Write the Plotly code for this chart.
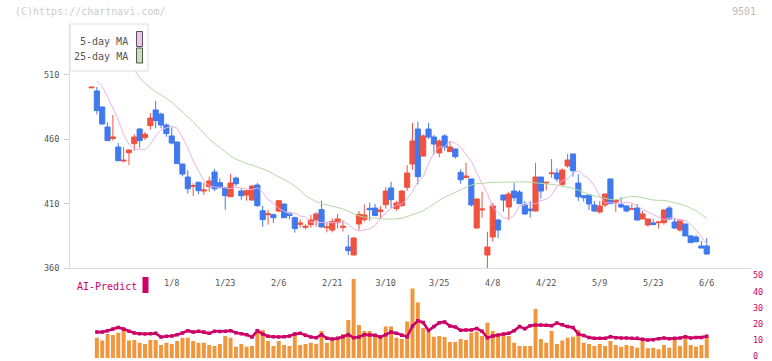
import plotly.graph_objects as go

# ---------------- data ----------------
tick_labels = ["1/8", "1/23", "2/6", "2/21", "3/10", "3/25", "4/8", "4/22", "5/9", "5/23", "6/6"]
tick_index = [15, 25, 35, 45, 55, 65, 75, 85, 95, 105, 115]

open_ = [500.0, 497.6, 485.1, 469.6, 460.7, 454.0, 443.1, 449.6, 456.6, 468.0,
         461.3, 470.6, 482.8, 479.7, 471.1, 462.6, 457.9, 440.8, 430.7, 423.5,
         426.6, 419.8, 423.2, 434.6, 426.3, 422.2, 415.4, 429.9, 419.8, 416.7,
         412.8, 424.5, 404.5, 401.4, 401.4, 404.3, 409.7, 402.7, 399.1, 393.9,
         391.6, 393.7, 397.3, 405.3, 391.3, 389.5, 395.2, 391.6, 376.3, 370.1,
         394.2, 397.6, 406.4, 406.6, 404.0, 409.2, 422.2, 406.1, 408.4, 422.7,
         440.8, 468.0, 447.0, 468.0, 461.8, 449.4, 462.6, 450.4, 452.5, 434.3,
         430.2, 429.2, 391.1, 405.1, 370.1, 384.1, 397.3, 416.7, 407.4, 419.8,
         419.0, 409.0, 405.8, 404.3, 430.7, 426.0, 433.3, 433.8, 425.0, 439.3,
         448.6, 426.0, 416.2, 416.7, 409.0, 403.5, 409.0, 429.2, 411.3, 409.2,
         408.2, 405.6, 406.6, 398.1, 393.4, 395.0, 395.2, 395.2, 406.6, 395.7,
         389.5, 394.2, 384.9, 384.1, 377.1, 377.1]
high = [501.0, 500.7, 485.5, 473.2, 478.9, 457.1, 454.0, 452.0, 463.9, 469.0,
        465.7, 480.4, 489.8, 480.7, 472.4, 469.3, 458.2, 441.0, 435.9, 425.8,
        427.1, 426.3, 431.0, 436.9, 429.7, 423.2, 433.0, 431.0, 421.9, 420.6,
        424.5, 426.0, 408.2, 405.1, 402.2, 412.8, 409.9, 403.0, 399.9, 397.8,
        393.9, 401.2, 403.3, 412.1, 395.5, 398.6, 402.0, 397.0, 385.6, 384.3,
        404.3, 409.5, 410.8, 409.7, 408.2, 422.9, 427.1, 412.1, 420.6, 440.0,
        472.7, 473.7, 463.9, 472.7, 463.3, 460.0, 464.1, 458.4, 452.7, 436.7,
        441.8, 429.3, 413.9, 419.3, 388.2, 410.5, 398.1, 416.8, 419.3, 426.3,
        420.6, 412.1, 412.1, 441.6, 430.8, 426.8, 444.7, 437.4, 437.4, 448.6,
        448.8, 433.0, 416.5, 417.0, 412.1, 412.1, 417.6, 429.3, 412.7, 415.2,
        408.5, 409.7, 409.7, 404.3, 398.3, 398.1, 395.8, 405.8, 408.2, 398.9,
        397.4, 394.3, 385.6, 385.6, 381.0, 383.3]
low = [499.8, 479.4, 471.2, 458.8, 459.0, 442.9, 442.1, 440.0, 451.2, 453.5,
       459.5, 467.5, 468.5, 468.5, 462.0, 456.0, 440.8, 431.2, 417.8, 416.0,
       417.2, 416.7, 419.3, 419.8, 421.9, 405.3, 415.2, 423.7, 413.1, 412.3,
       412.3, 407.4, 392.1, 393.7, 395.0, 403.5, 398.8, 398.0, 387.5, 391.3,
       390.0, 391.3, 392.1, 391.3, 387.7, 387.7, 390.6, 388.2, 370.1, 370.0,
       389.5, 396.0, 396.8, 400.5, 398.1, 406.1, 406.4, 404.5, 407.9, 420.1,
       436.1, 425.0, 446.8, 460.2, 447.8, 446.0, 450.9, 450.2, 445.0, 425.5,
       430.0, 407.7, 390.6, 399.1, 355.0, 380.5, 383.3, 403.8, 397.3, 412.1,
       409.8, 401.2, 399.1, 403.8, 414.1, 420.3, 430.2, 427.1, 423.2, 437.9,
       431.0, 412.1, 411.5, 405.1, 403.5, 402.2, 407.4, 409.8, 403.5, 406.4,
       403.5, 405.3, 397.2, 397.9, 392.1, 393.5, 390.6, 393.7, 397.3, 390.3,
       388.2, 384.8, 379.5, 379.7, 375.3, 370.1]
close = [500.5, 482.3, 471.9, 459.0, 461.8, 443.4, 443.7, 451.7, 461.8, 459.0,
         463.9, 476.5, 474.5, 471.1, 464.4, 457.1, 441.1, 433.0, 421.6, 424.0,
         420.1, 420.6, 427.6, 421.6, 422.4, 416.2, 426.0, 425.5, 416.2, 420.1,
         423.7, 408.4, 397.6, 402.2, 399.1, 412.3, 399.1, 400.7, 390.6, 395.0,
         392.4, 397.3, 402.0, 391.9, 391.9, 396.0, 398.1, 392.4, 373.5, 383.3,
         401.7, 401.2, 405.3, 400.7, 405.1, 419.8, 413.1, 410.5, 419.8, 433.8,
         458.7, 431.0, 462.6, 461.8, 456.3, 458.7, 454.0, 454.0, 446.5, 428.6,
         431.5, 409.0, 413.6, 405.8, 376.3, 408.2, 389.5, 412.8, 417.5, 414.6,
         410.0, 402.0, 404.5, 430.7, 419.8, 426.6, 433.8, 429.2, 436.1, 443.9,
         435.6, 415.4, 414.6, 409.7, 404.3, 408.2, 417.5, 410.0, 412.6, 407.4,
         404.3, 406.1, 397.3, 402.0, 398.1, 393.7, 395.7, 405.1, 398.1, 391.1,
         397.3, 384.9, 379.7, 380.5, 375.5, 370.9]
ma5 = [None, 505.3, 500.9, 493.2, 484.5, 475.1, 463.7, 456.0, 451.9, 452.5,
       451.9, 456.0, 462.6, 467.1, 469.0, 470.1, 468.7, 461.6, 453.3, 443.4,
       435.4, 428.0, 423.9, 422.8, 422.8, 422.5, 421.7, 422.8, 422.3, 421.3,
       420.8, 422.3, 418.8, 413.2, 410.4, 406.2, 403.9, 402.1, 402.7, 400.4,
       399.5, 395.6, 395.2, 395.5, 395.7, 395.1, 395.8, 396.0, 394.1, 390.4,
       388.7, 389.8, 390.4, 393.0, 398.4, 402.8, 406.4, 408.8, 409.8, 413.7,
       419.4, 427.2, 430.8, 441.2, 449.6, 454.1, 454.1, 458.7, 457.0, 453.9,
       448.4, 442.9, 433.9, 425.8, 417.7, 407.2, 402.6, 398.7, 398.5, 400.9,
       408.5, 408.9, 411.4, 409.7, 412.4, 413.4, 416.7, 423.1, 428.0, 429.1,
       433.9, 435.7, 432.0, 429.1, 423.8, 415.9, 410.4, 410.9, 409.9, 410.5,
       411.1, 410.4, 408.1, 405.5, 403.4, 401.6, 399.4, 397.4, 398.9, 398.1,
       396.7, 397.0, 394.0, 389.0, 384.5, 378.5]
ma25 = [545.0, 541.0, 537.0, 533.0, 529.0, 525.0, 521.0, 517.5, 514.0, 508.0,
        503.5, 500.0, 497.0, 494.5, 492.0, 489.0, 485.0, 481.5, 477.5, 473.5,
        469.5, 465.0, 460.0, 457.0, 454.0, 450.5, 447.0, 444.5, 443.0, 441.0,
        440.0, 438.6, 437.5, 435.5, 433.0, 431.0, 429.0, 426.5, 423.5, 420.5,
        416.0, 413.5, 411.5, 410.0, 409.0, 408.0, 407.5, 406.0, 404.0, 402.0,
        400.5, 399.5, 399.0, 398.5, 398.0, 398.0, 398.0, 398.0, 398.5, 400.0,
        401.5, 403.0, 404.5, 407.0, 410.0, 412.5, 415.0, 417.0, 419.0, 421.0,
        423.0, 424.5, 425.5, 426.0, 426.5, 426.5, 426.6, 426.7, 426.8, 427.0,
        427.0, 427.0, 426.6, 426.2, 426.0, 425.5, 425.0, 424.5, 423.5, 423.0,
        422.0, 420.5, 418.5, 417.0, 416.0, 415.0, 414.2, 413.2, 413.0, 414.2,
        415.0, 415.5, 415.5, 414.5, 413.5, 412.8, 412.6, 412.5, 411.8, 410.5,
        409.5, 408.5, 406.5, 404.5, 401.5, 398.5]
volume = [None, 12.6, 10.8, 14.9, 14.3, 15.7, 17.4, 10.8, 11.2, 9.5,
          8.7, 11.2, 11.2, 8.1, 9.5, 8.7, 10.6, 12.6, 12.6, 10.6,
          9.5, 9.5, 8.1, 7.5, 8.7, 13.7, 12.6, 7.0, 8.7, 7.0,
          7.5, 18.0, 17.4, 10.6, 7.5, 10.6, 8.1, 7.5, 15.7, 8.1,
          8.7, 9.5, 8.7, 16.8, 9.5, 11.2, 12.6, 14.9, 23.6, 49.1,
          20.5, 16.8, 16.8, 13.7, 12.6, 19.5, 19.5, 12.6, 11.8, 22.6,
          43.1, 34.4, 18.6, 15.7, 13.2, 13.7, 13.0, 9.9, 9.9, 11.8,
          11.2, 15.7, 16.4, 13.7, 21.9, 16.8, 13.7, 14.1, 13.7, 9.5,
          7.5, 7.5, 7.5, 30.4, 11.8, 9.5, 16.8, 8.7, 10.8, 12.6,
          13.2, 17.4, 9.5, 8.7, 7.5, 8.7, 7.5, 10.6, 8.1, 7.0,
          8.1, 7.5, 6.4, 10.6, 6.0, 6.4, 5.4, 8.1, 6.4, 11.8,
          7.5, 12.2, 8.1, 7.0, 8.1, 12.8]
ai_predict = [None, 16.1, 16.1, 17.0, 18.0, 19.0, 18.0, 16.6, 15.5, 15.1,
              14.9, 15.1, 15.3, 13.0, 13.5, 13.7, 14.5, 15.5, 17.0, 16.1,
              16.6, 16.1, 15.3, 16.6, 16.4, 16.6, 17.0, 15.7, 15.1, 14.5,
              13.0, 17.0, 14.9, 13.5, 13.2, 13.0, 13.2, 13.7, 14.9, 15.3,
              14.1, 13.0, 12.6, 14.5, 12.2, 11.8, 12.2, 13.2, 14.5, 12.6,
              13.0, 14.5, 14.3, 14.1, 13.0, 14.5, 16.1, 15.3, 14.1, 13.2,
              19.9, 23.2, 22.1, 17.0, 19.5, 21.9, 22.4, 19.9, 19.3, 17.2,
              17.4, 17.4, 18.4, 16.6, 12.6, 13.7, 14.3, 14.9, 15.3, 17.0,
              19.5, 18.2, 20.1, 20.5, 20.5, 20.3, 20.1, 21.7, 20.7, 19.5,
              19.0, 14.9, 13.9, 12.8, 12.2, 12.2, 12.2, 13.2, 12.6, 12.4,
              12.4, 12.2, 12.2, 11.6, 11.2, 11.4, 12.0, 12.4, 12.0, 12.2,
              12.4, 13.2, 12.4, 12.8, 12.8, 13.5]
price_ticks = [360, 410, 460, 510]
volume_ticks = [0, 10, 20, 30, 40, 50]

# ---------------- styling ----------------
RED = "#f0523f"
BLUE = "#4079ee"
ORANGE = "#f0963c"
CRIMSON = "#cc0066"
PINK = "#e8b2ea"
GREEN = "#b3daa3"
FONT = "DejaVu Sans Mono"

W, H = 772, 361
ML, MR, MT, MB = 70, 20, 24, 3
PW = W - ML - MR
PH = H - MT - MB


def px(xp):
    return (xp - ML) / PW


def py(yp):
    return (H - MB - yp) / PH


xs = list(range(len(close)))
x_range = [-4.02, 123.46]

fig = go.Figure()
fig.add_trace(go.Scatter(x=xs, y=ma25, mode="lines", line=dict(color=GREEN, width=1),
                         xaxis="x", yaxis="y", hoverinfo="skip"))
fig.add_trace(go.Scatter(x=xs, y=ma5, mode="lines", line=dict(color=PINK, width=1),
                         xaxis="x", yaxis="y", hoverinfo="skip"))
fig.add_trace(go.Candlestick(
    x=xs, open=open_, high=high, low=low, close=close,
    increasing=dict(line=dict(color=RED, width=1), fillcolor=RED),
    decreasing=dict(line=dict(color=BLUE, width=1), fillcolor=BLUE),
    whiskerwidth=0, xaxis="x", yaxis="y"))
fig.add_trace(go.Bar(x=xs, y=volume, marker=dict(color=ORANGE, line=dict(width=0)),
                     width=0.74, xaxis="x2", yaxis="y2"))
fig.add_trace(go.Scatter(x=xs, y=ai_predict, mode="lines+markers",
                         line=dict(color=CRIMSON, width=2.6),
                         marker=dict(color=CRIMSON, size=3.5, symbol="square"),
                         xaxis="x2", yaxis="y2"))

price_bottom = py(268)
vol_top = py(277.5)

fig.update_layout(
    width=W, height=H,
    margin=dict(l=ML, r=MR, t=MT, b=MB, autoexpand=False),
    paper_bgcolor="white", plot_bgcolor="white",
    showlegend=False,
    boxgap=0.04, boxgroupgap=0.0,
    bargap=0.2,
    font=dict(family=FONT, color="#555555", size=9),
    xaxis=dict(domain=[0, 1], anchor="y", range=x_range, showgrid=False, zeroline=False,
               showline=True, linecolor="#dddddd", linewidth=1,
               tickmode="array", tickvals=tick_index, ticktext=tick_labels,
               ticks="outside", ticklen=7, tickcolor="rgba(0,0,0,0)",
               tickfont=dict(family=FONT, size=8.5, color="#555555"),
               rangeslider=dict(visible=False), fixedrange=True, automargin=False),
    xaxis3=dict(overlaying="x", anchor="y", range=[0, 11], tickmode="linear", tick0=0, dtick=1,
                ticks="outside", ticklen=5, tickcolor="#dddddd", showticklabels=False,
                showgrid=False, zeroline=False, showline=False),
    xaxis4=dict(overlaying="x", anchor="y", range=[0, 11], tickmode="linear", tick0=0, dtick=1,
                ticks="inside", ticklen=3, tickcolor="#dddddd", showticklabels=False,
                showgrid=False, zeroline=False, showline=False),
    yaxis=dict(domain=[price_bottom, 1], anchor="x", range=[360, 549.6],
               tickmode="array", tickvals=price_ticks, showgrid=False, zeroline=False,
               showline=True, linecolor="#dddddd", linewidth=1,
               ticks="outside", ticklen=5, tickcolor="#cccccc", ticklabelstandoff=3,
               tickfont=dict(family=FONT, size=8.5, color="#555555"), fixedrange=True,
               automargin=False),
    xaxis2=dict(domain=[0, 1], anchor="y2", range=x_range, visible=False),
    yaxis2=dict(domain=[0, vol_top], anchor="x2", side="right", range=[0, 50],
                tickmode="array", tickvals=volume_ticks, showgrid=False, zeroline=False,
                showline=False, ticks="", automargin=False, ticklabeloverflow="allow",
                ticklabelshift=-2,
                tickfont=dict(family=FONT, size=8.5, color=CRIMSON)),
)

shapes = [
    dict(type="rect", xref="paper", yref="paper", x0=px(70), x1=px(148), y0=py(71), y1=py(24),
         fillcolor="white", line=dict(color="#dddddd", width=1), layer="above"),
    dict(type="rect", xref="paper", yref="paper", x0=px(136.5), x1=px(142.5), y0=py(46.5), y1=py(31.5),
         fillcolor="#f0c2f0", line=dict(color="#555555", width=1), layer="above"),
    dict(type="rect", xref="paper", yref="paper", x0=px(136.5), x1=px(142.5), y0=py(63), y1=py(48),
         fillcolor="#c4e2b4", line=dict(color="#555555", width=1), layer="above"),
    dict(type="rect", xref="paper", yref="paper", x0=px(142.5), x1=px(148.5), y0=py(293), y1=py(277),
         fillcolor=CRIMSON, line=dict(width=0), layer="above"),
]
annotations = [
    dict(text="5-day MA", xref="paper", yref="paper", x=px(130), y=py(41), xanchor="right",
         yanchor="middle", showarrow=False, font=dict(family=FONT, size=10, color="#555555")),
    dict(text="25-day MA", xref="paper", yref="paper", x=px(130), y=py(57), xanchor="right",
         yanchor="middle", showarrow=False, font=dict(family=FONT, size=10, color="#555555")),
    dict(text="AI-Predict", xref="paper", yref="paper", x=px(75), y=py(286), xanchor="left",
         yanchor="middle", showarrow=False, font=dict(family=FONT, size=10, color=CRIMSON)),
    dict(text="(C)https://chartnavi.com/", xref="paper", yref="paper", x=px(13), y=py(12),
         xanchor="left", yanchor="middle", showarrow=False,
         font=dict(family=FONT, size=10, color="#cccccc")),
    dict(text="9501", xref="paper", yref="paper", x=px(758), y=py(12),
         xanchor="right", yanchor="middle", showarrow=False,
         font=dict(family=FONT, size=10, color="#bbbbbb")),
]
fig.update_layout(shapes=shapes, annotations=annotations)

fig.write_html(
    "out.html",
    config={"displayModeBar": False, "staticPlot": True},
    post_script="document.body.style.margin='0';document.body.style.padding='0';"
                "document.documentElement.style.overflow='hidden';",
)
